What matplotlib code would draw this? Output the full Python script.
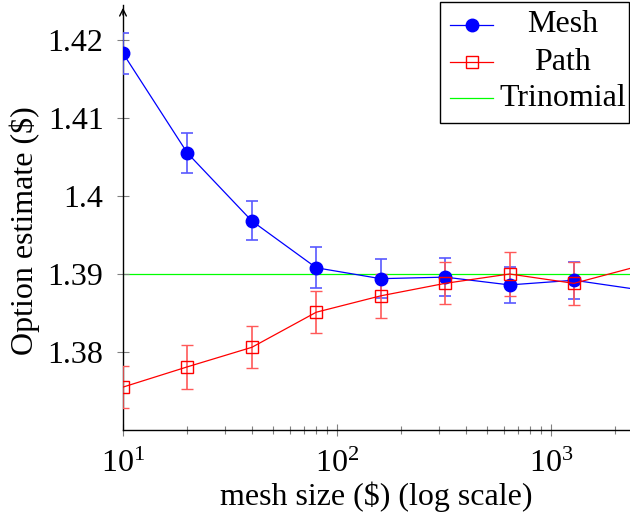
import matplotlib
matplotlib.use("Agg")
import matplotlib.pyplot as plt
from matplotlib.lines import Line2D
from matplotlib.patches import Rectangle

plt.rcParams['font.family'] = ['Liberation Serif', 'DejaVu Serif']
plt.rcParams['mathtext.fontset'] = 'custom'
plt.rcParams['mathtext.rm'] = 'Liberation Serif'

# data
mesh_size = [10, 20, 40, 80, 160, 320, 640, 1280, 2560]
mesh_est = [1.4183, 1.4055, 1.3968, 1.3908, 1.3894, 1.3896, 1.3886, 1.3892, 1.3880]
mesh_err = [0.0026, 0.0026, 0.0025, 0.0026, 0.0025, 0.0024, 0.0023, 0.0024, 0.0024]
path_est = [1.3755, 1.3781, 1.3806, 1.3851, 1.3872, 1.3888, 1.3900, 1.3888, 1.3910]
path_err = [0.0027, 0.0028, 0.0027, 0.0027, 0.0028, 0.0027, 0.0028, 0.0028, 0.0028]
trinomial = 1.39
y_ticks = [1.38, 1.39, 1.40, 1.41, 1.42]
y_ticklabels = ['1.38', '1.39', '1.4', '1.41', '1.42']

fig = plt.figure(figsize=(6.3, 5.16), dpi=100)
ax = fig.add_axes([123 / 630, 86 / 516, 507 / 630, 425 / 516])

ax.set_xscale('log')
ax.set_xlim(10, 10 ** (1 + 507 / 214))
ax.set_ylim(1.37, 1.37 + 425 / 7800)

ax.axhline(trinomial, color=(0, 1, 0), lw=0.9, zorder=1)

ax.errorbar(mesh_size, mesh_est, yerr=mesh_err, color='blue', lw=0.9,
            marker='o', ms=9, mfc='blue', mec='blue', ecolor=(0.35, 0.35, 1.0),
            elinewidth=1.2, capsize=4.5, capthick=1.2, zorder=3)
ax.errorbar(mesh_size, path_est, yerr=path_err, color='red', lw=0.9,
            marker='s', ms=8, mfc='none', mec='red', mew=1.0, ecolor=(1.0, 0.35, 0.35),
            elinewidth=1.2, capsize=4.5, capthick=1.2, zorder=3)

ax.set_yticks(y_ticks)
ax.set_yticklabels(y_ticklabels)

for s in ['top', 'right']:
    ax.spines[s].set_visible(False)
for s in ['left', 'bottom']:
    ax.spines[s].set_linewidth(1.0)
ax.tick_params(which='major', direction='inout', length=8, width=0.8,
               color='#808080', labelsize=23)
ax.tick_params(which='minor', direction='inout', length=6, width=0.8,
               color='#808080')
ax.tick_params(axis='y', which='major', pad=10)
ax.tick_params(axis='x', which='major', pad=10)

ax.annotate('', xy=(0, 1.0), xytext=(0, 0.97), xycoords='axes fraction',
            arrowprops=dict(arrowstyle='->', lw=1.0, color='black',
                            mutation_scale=12))

ax.set_ylabel('Option estimate ($)', fontsize=23)
ax.yaxis.set_label_coords(-0.163, 0.468)
ax.set_xlabel('mesh size ($) (log scale)', fontsize=23, labelpad=2)

# legend box drawn by hand so the labels can be centred
W, H = 630.0, 516.0
fig.patches.append(Rectangle((440 / W, 1 - 123 / H), 189 / W, 121 / H,
                             transform=fig.transFigure, fill=True, fc='white',
                             ec='black', lw=1.0, zorder=10))
rows = [('Mesh', 'blue', 'o', 'blue', 25), ('Path', 'red', 's', 'none', 62),
        ('Trinomial', (0, 1, 0), None, None, 98)]
for label, col, mk, fc, yy in rows:
    yf = 1 - yy / H
    fig.lines.append(Line2D([450 / W, 493 / W], [yf, yf], transform=fig.transFigure,
                            color=col, lw=0.9, zorder=11))
    if mk:
        fig.lines.append(Line2D([472 / W], [yf], transform=fig.transFigure,
                                marker=mk, ms=9 if mk == 'o' else 8, mfc=fc,
                                mec=col, lw=0, zorder=12))
    fig.text(563 / W, yf, label, ha='center', va='center', fontsize=23, zorder=12)

fig.savefig('out.png', dpi=100)
